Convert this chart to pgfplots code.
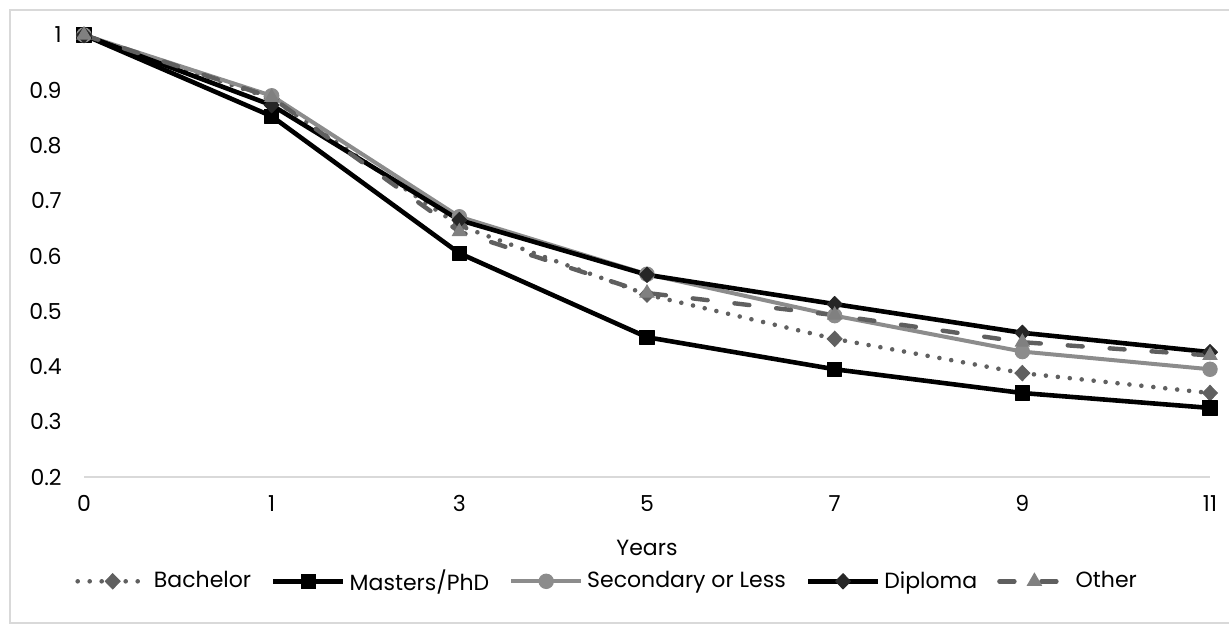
\documentclass[border=0pt]{standalone}
\usepackage{fontspec}
\setmainfont{Poppins}
\usepackage{pgfplots}
\pgfplotsset{compat=1.18}
\definecolor{bach}{HTML}{606060}
\definecolor{sec}{HTML}{8C8C8C}
\definecolor{dipm}{HTML}{262626}
\definecolor{oth}{HTML}{5F5F5F}
\definecolor{othm}{HTML}{808080}
\definecolor{axgray}{HTML}{D9D9D9}
\begin{document}
\begin{tikzpicture}
\useasboundingbox (-42pt,-74.5pt) rectangle (572.5pt,238.5pt);
\draw[axgray, line width=0.75pt] (-37pt,-73pt) rectangle (580pt,233.5pt);
\begin{axis}[
  scale only axis,
  width=563pt, height=221pt,
  xmin=0, xmax=6, ymin=0.2, ymax=1,
  clip=false,
  axis x line*=bottom, axis y line*=left,
  y axis line style={draw=none},
  x axis line style={draw=axgray, line width=0.75pt, -},
  major tick length=0pt,
  xtick={0,1,2,3,4,5,6},
  xticklabels={0,1,3,5,7,9,11},
  ytick={0.2,0.3,0.4,0.5,0.6,0.7,0.8,0.9,1},
  yticklabels={0.2,0.3,0.4,0.5,0.6,0.7,0.8,0.9,1},
  tick label style={font=\fontsize{11}{13}\selectfont, text=black},
  yticklabel style={anchor=east, inner sep=0pt, xshift=-11pt},
  xticklabel style={anchor=north, inner sep=0pt, yshift=-9pt},
  xlabel={Years},
  xlabel style={at={(axis description cs:0.5,0)}, anchor=base, yshift=-39pt, font=\fontsize{11}{13}\selectfont, inner sep=0pt},
  legend columns=5,
  legend style={at={(axis description cs:-0.008,-0.236)}, anchor=west, draw=none, fill=none, inner sep=0pt,
    font=\fontsize{11}{13}\selectfont,
    nodes={inner xsep=2pt, inner ysep=1pt},
    /tikz/every even column/.append style={column sep=8pt}},
  legend image code/.code={
    \draw[mark repeat=2,mark phase=2,#1] plot coordinates {(0pt,0pt) (17.5pt,0pt) (35pt,0pt)};
  },
]
\addplot[color=bach, line width=2.3pt, line cap=round, dash pattern=on 0pt off 6pt,
  mark=diamond*, mark size=3.8pt, mark options={solid, line width=0.5pt, fill=bach, xscale=1.3}]
  coordinates {(0,1) (1,0.885) (2,0.655) (3,0.530) (4,0.450) (5,0.388) (6,0.352)};
\addlegendentry{Bachelor}
\addplot[color=black, line width=2.3pt, line join=round,
  mark=square*, mark size=3.6pt, mark options={solid, line width=0.5pt, fill=black}]
  coordinates {(0,1) (1,0.853) (2,0.605) (3,0.453) (4,0.395) (5,0.352) (6,0.325)};
\addlegendentry{Masters/PhD}
\addplot[color=sec, line width=2pt, line join=round,
  mark=*, mark size=3.6pt, mark options={solid, line width=0.5pt, fill=sec}]
  coordinates {(0,1) (1,0.890) (2,0.671) (3,0.567) (4,0.492) (5,0.427) (6,0.395)};
\addlegendentry{Secondary or Less}
\addplot[color=black, line width=2.3pt, line join=round,
  mark=diamond*, mark size=3.8pt, mark options={solid, line width=0.5pt, draw=dipm, fill=dipm, xscale=1.3}]
  coordinates {(0,1) (1,0.873) (2,0.665) (3,0.566) (4,0.513) (5,0.461) (6,0.426)};
\addlegendentry{Diploma}
\addplot[color=oth, line width=2.2pt, line cap=round, dash pattern=on 7.5pt off 13.5pt,
  mark=triangle*, mark size=4pt, mark options={solid, line width=0.5pt, draw=othm, fill=othm}]
  coordinates {(0,1) (1,0.887) (2,0.644) (3,0.533) (4,0.493) (5,0.444) (6,0.420)};
\addlegendentry{Other}
\end{axis}
\end{tikzpicture}
\end{document}
